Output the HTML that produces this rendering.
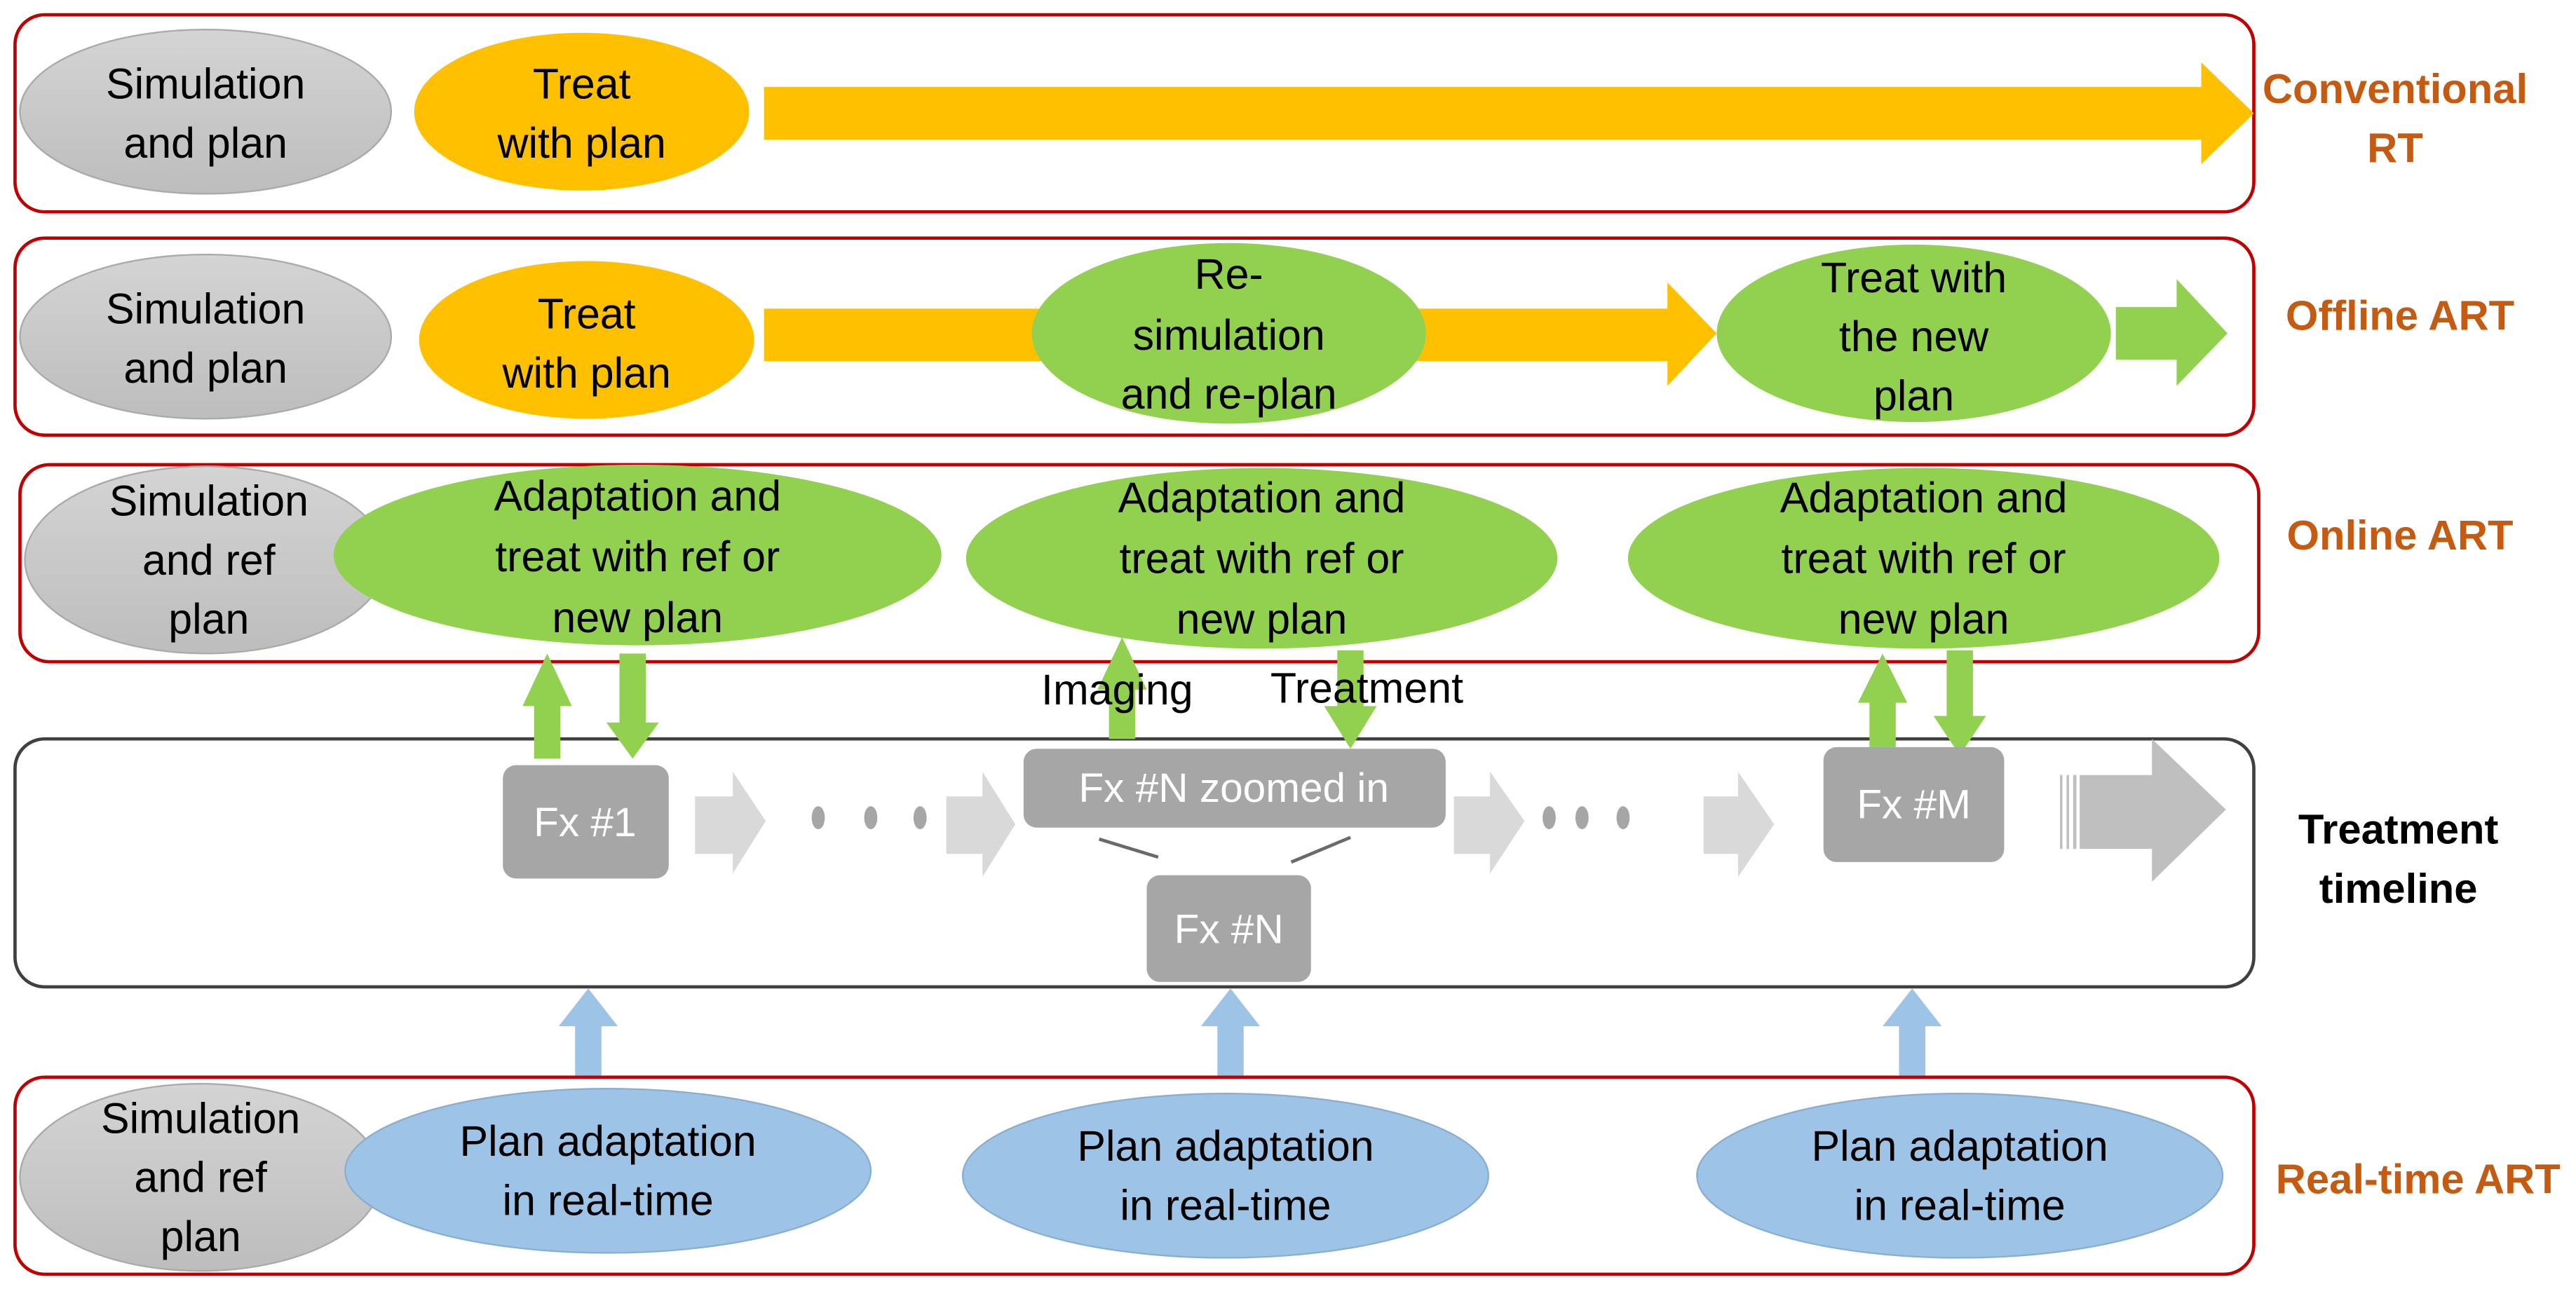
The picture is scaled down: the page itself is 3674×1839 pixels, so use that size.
<!DOCTYPE html>
<html><head><meta charset="utf-8"><style>html,body{margin:0;padding:0;background:#fff}svg{display:block}</style></head>
<body>
<svg width="3674" height="1839" viewBox="0 0 1568 785" xmlns="http://www.w3.org/2000/svg" font-family="Liberation Sans, sans-serif">
<defs>
<linearGradient id="g" x1="0" y1="0" x2="0" y2="1"><stop offset="0" stop-color="#d4d4d4"/><stop offset="1" stop-color="#bdbdbd"/></linearGradient>
</defs>
<g fill="none" stroke="#c00000" stroke-width="2">
<rect x="9" y="9" width="1363" height="120" rx="18"/>
<rect x="9" y="145" width="1363" height="120" rx="18"/>
<rect x="12" y="283" width="1363" height="120" rx="18"/>
<rect x="9" y="656" width="1363" height="120" rx="18"/>
</g>
<rect x="9" y="450" width="1363" height="151" rx="18" fill="none" stroke="#404040" stroke-width="2"/>

<ellipse cx="125" cy="68" rx="113" ry="50" fill="url(#g)" stroke="#aaa"/>
<ellipse cx="354" cy="68" rx="102" ry="48" fill="#ffc000"/>
<polygon points="465,53 1340,53 1340,38 1372,69 1340,100 1340,85 465,85" fill="#ffc000"/>
<ellipse cx="125" cy="205" rx="113" ry="50" fill="url(#g)" stroke="#aaa"/>
<ellipse cx="357" cy="207" rx="102" ry="48" fill="#ffc000"/>
<polygon points="465,188 1015,188 1015,172 1045,203 1015,235 1015,220 465,220" fill="#ffc000"/>
<ellipse cx="748" cy="203" rx="120" ry="55" fill="#92d050"/>
<ellipse cx="1165" cy="203" rx="120" ry="54" fill="#92d050"/>
<polygon points="1288,187 1325,187 1325,170 1356,203 1325,235 1325,219 1288,219" fill="#92d050"/>
<ellipse cx="125" cy="341" rx="110" ry="57" fill="url(#g)" stroke="#aaa"/>
<ellipse cx="388" cy="338" rx="185" ry="55" fill="#92d050"/>
<ellipse cx="768" cy="340" rx="180" ry="55" fill="#92d050"/>
<ellipse cx="1171" cy="340" rx="180" ry="55" fill="#92d050"/>
<g fill="#92d050">
<polygon points="325,462 325,430 318,430 333,398 348,430 341,430 341,462"/>
<polygon points="377,398 393,398 393,440 401,440 385,462 369,440 377,440"/>
<polygon points="675,450 675,420 668,420 683,388 698,420 691,420 691,450"/>
<polygon points="814,396 830,396 830,430 838,430 822,456 806,430 814,430"/>
<polygon points="1138,455 1138,428 1131,428 1146,398 1161,428 1154,428 1154,455"/>
<polygon points="1185,396 1201,396 1201,436 1209,436 1193,460 1177,436 1185,436"/>
</g>
<g fill="#a6a6a6">
<rect x="306" y="466" width="101" height="69" rx="8"/>
<rect x="623" y="456" width="257" height="48" rx="8"/>
<rect x="698" y="533" width="100" height="65" rx="8"/>
<rect x="1110" y="455" width="110" height="70" rx="8"/>
</g>
<g fill="#d9d9d9">
<polygon points="423,485 446,485 446,470 466,500 446,532 446,520 423,520"/>
<polygon points="576,485 598,485 598,470 618,502 598,534 598,520 576,520"/>
<polygon points="885,485 907,485 907,470 928,500 907,532 907,520 885,520"/>
<polygon points="1037,485 1058,485 1058,470 1080,502 1058,534 1058,520 1037,520"/>
</g>
<g fill="#a6a6a6">
<ellipse cx="498" cy="498" rx="4" ry="7"/><ellipse cx="530" cy="498" rx="4" ry="7"/><ellipse cx="560" cy="498" rx="4" ry="7"/>
<ellipse cx="943" cy="498" rx="4" ry="7"/><ellipse cx="963" cy="498" rx="4" ry="7"/><ellipse cx="988" cy="498" rx="4" ry="7"/>
</g>
<g stroke="#6a6a6a" stroke-width="2"><line x1="669" y1="511" x2="705" y2="522"/><line x1="822" y1="510" x2="786" y2="525"/></g>
<g fill="#bfbfbf">
<rect x="1254" y="472" width="1.5" height="45"/><rect x="1258" y="472" width="1.5" height="45"/><rect x="1262" y="472" width="2" height="45"/>
<polygon points="1266,472 1310,472 1310,450 1355,493 1310,537 1310,517 1266,517"/>
</g>
<g fill="#9dc3e6">
<polygon points="350,655 350,625 340,625 358,602 376,625 366,625 366,655"/>
<polygon points="741,655 741,625 731,625 749,602 767,625 757,625 757,655"/>
<polygon points="1156,655 1156,625 1146,625 1164,602 1182,625 1172,625 1172,655"/>
</g>
<ellipse cx="122" cy="717" rx="110" ry="57" fill="url(#g)" stroke="#aaa"/>
<ellipse cx="370" cy="713" rx="160" ry="50" fill="#9dc3e6" stroke="#8aaed0"/>
<ellipse cx="746" cy="716" rx="160" ry="50" fill="#9dc3e6" stroke="#8aaed0"/>
<ellipse cx="1193" cy="716" rx="160" ry="50" fill="#9dc3e6" stroke="#8aaed0"/>

<g font-size="26" fill="#000" text-anchor="middle" dominant-baseline="central">
<text x="125" y="51">Simulation</text><text x="125" y="87">and plan</text>
<text x="354" y="51">Treat</text><text x="354" y="87">with plan</text>
<text x="125" y="188">Simulation</text><text x="125" y="224">and plan</text>
<text x="357" y="191">Treat</text><text x="357" y="227">with plan</text>
<text x="748" y="167">Re-</text><text x="748" y="204">simulation</text><text x="748" y="240">and re-plan</text>
<text x="1165" y="169">Treat with</text><text x="1165" y="205">the new</text><text x="1165" y="241">plan</text>
<text x="127" y="305">Simulation</text><text x="127" y="341">and ref</text><text x="127" y="377">plan</text>
<text x="388" y="302">Adaptation and</text><text x="388" y="339">treat with ref or</text><text x="388" y="376">new plan</text>
<text x="768" y="303">Adaptation and</text><text x="768" y="340">treat with ref or</text><text x="768" y="377">new plan</text>
<text x="1171" y="303">Adaptation and</text><text x="1171" y="340">treat with ref or</text><text x="1171" y="377">new plan</text>
<text x="680" y="420">Imaging</text><text x="832" y="419">Treatment</text>
<text x="122" y="681">Simulation</text><text x="122" y="717">and ref</text><text x="122" y="753">plan</text>
<text x="370" y="695">Plan adaptation</text><text x="370" y="731">in real-time</text>
<text x="746" y="698">Plan adaptation</text><text x="746" y="734">in real-time</text>
<text x="1193" y="698">Plan adaptation</text><text x="1193" y="734">in real-time</text>
</g>
<g font-size="25" fill="#fff" text-anchor="middle" dominant-baseline="central">
<text x="356" y="501">Fx #1</text>
<text x="751" y="480">Fx #N zoomed in</text>
<text x="748" y="566">Fx #N</text>
<text x="1165" y="490">Fx #M</text>
</g>
<g font-size="25.5" font-weight="bold" text-anchor="middle" dominant-baseline="central">
<g fill="#c55a11">
<text x="1458" y="54">Conventional</text><text x="1458" y="90">RT</text>
<text x="1461" y="192">Offline ART</text>
<text x="1461" y="326">Online ART</text>
<text x="1472" y="718">Real-time ART</text>
</g>
<text x="1460" y="505" fill="#000">Treatment</text><text x="1460" y="541" fill="#000">timeline</text>
</g>
</svg>
</body></html>
